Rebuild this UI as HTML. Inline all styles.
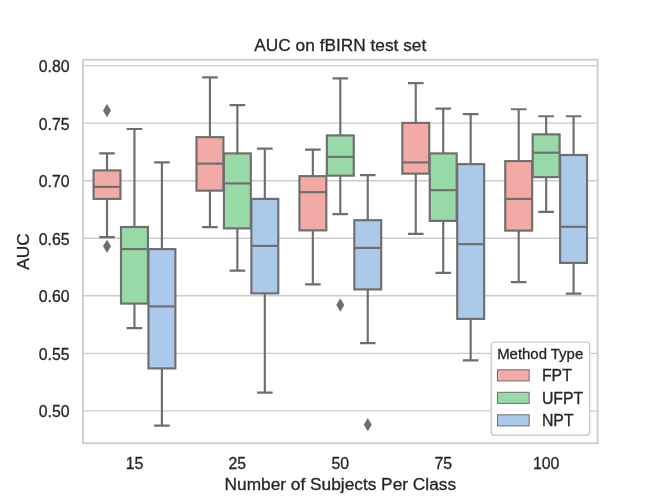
<!DOCTYPE html>
<html lang="en"><head><meta charset="utf-8"><title>AUC on fBIRN test set</title>
<style>html,body{margin:0;padding:0;background:#fff}body{width:664px;height:498px;overflow:hidden}svg{display:block}text{font-family:"Liberation Sans",Arial,Helvetica,sans-serif;fill:#262626;stroke:#262626;stroke-width:0.3px}</style></head><body>
<svg width="664" height="498" viewBox="0 0 664 498">
<rect width="664" height="498" fill="#fff"/>
<g stroke="#cccccc" stroke-width="1.44" fill="none">
<line x1="83.00" y1="65.60" x2="597.60" y2="65.60"/>
<line x1="83.00" y1="123.15" x2="597.60" y2="123.15"/>
<line x1="83.00" y1="180.70" x2="597.60" y2="180.70"/>
<line x1="83.00" y1="238.25" x2="597.60" y2="238.25"/>
<line x1="83.00" y1="295.80" x2="597.60" y2="295.80"/>
<line x1="83.00" y1="353.35" x2="597.60" y2="353.35"/>
<line x1="83.00" y1="410.90" x2="597.60" y2="410.90"/>
</g>
<g stroke="#6f6f6f" stroke-width="2.16" stroke-linejoin="miter">
<rect x="93.57" y="170.40" width="26.90" height="28.50" fill="#f2aaa7"/>
<rect x="121.01" y="227.00" width="26.90" height="76.60" fill="#98daa7"/>
<rect x="148.46" y="249.10" width="26.90" height="119.30" fill="#abc9ea"/>
<rect x="196.49" y="137.15" width="26.90" height="53.50" fill="#f2aaa7"/>
<rect x="223.93" y="153.40" width="26.90" height="75.00" fill="#98daa7"/>
<rect x="251.38" y="198.90" width="26.90" height="94.50" fill="#abc9ea"/>
<rect x="299.41" y="176.15" width="26.90" height="54.25" fill="#f2aaa7"/>
<rect x="326.85" y="135.40" width="26.90" height="40.25" fill="#98daa7"/>
<rect x="354.30" y="220.20" width="26.90" height="69.20" fill="#abc9ea"/>
<rect x="402.33" y="122.90" width="26.90" height="50.75" fill="#f2aaa7"/>
<rect x="429.77" y="153.40" width="26.90" height="67.50" fill="#98daa7"/>
<rect x="457.22" y="164.15" width="26.90" height="154.75" fill="#abc9ea"/>
<rect x="505.25" y="161.10" width="26.90" height="69.50" fill="#f2aaa7"/>
<rect x="532.69" y="134.35" width="26.90" height="42.80" fill="#98daa7"/>
<rect x="560.14" y="155.00" width="26.90" height="107.90" fill="#abc9ea"/>
</g>
<g stroke="#6f6f6f" stroke-width="2.16" fill="none">
<path d="M107.01 170.40V153.40M107.01 198.90V237.10" stroke-linecap="butt"/>
<path d="M100.29 153.40H113.74M100.29 237.10H113.74" stroke-linecap="square"/>
<path d="M93.57 186.90H120.46" stroke-linecap="butt"/>
<path d="M134.46 227.00V129.00M134.46 303.60V328.15" stroke-linecap="butt"/>
<path d="M127.74 129.00H141.18M127.74 328.15H141.18" stroke-linecap="square"/>
<path d="M121.01 249.10H147.91" stroke-linecap="butt"/>
<path d="M161.91 249.10V162.40M161.91 368.40V425.65" stroke-linecap="butt"/>
<path d="M155.18 162.40H168.63M155.18 425.65H168.63" stroke-linecap="square"/>
<path d="M148.46 306.40H175.35" stroke-linecap="butt"/>
<path d="M209.93 137.15V77.40M209.93 190.65V227.15" stroke-linecap="butt"/>
<path d="M203.21 77.40H216.66M203.21 227.15H216.66" stroke-linecap="square"/>
<path d="M196.49 163.65H223.38" stroke-linecap="butt"/>
<path d="M237.38 153.40V105.15M237.38 228.40V270.65" stroke-linecap="butt"/>
<path d="M230.66 105.15H244.10M230.66 270.65H244.10" stroke-linecap="square"/>
<path d="M223.93 183.40H250.83" stroke-linecap="butt"/>
<path d="M264.83 198.90V148.65M264.83 293.40V392.65" stroke-linecap="butt"/>
<path d="M258.10 148.65H271.55M258.10 392.65H271.55" stroke-linecap="square"/>
<path d="M251.38 245.90H278.27" stroke-linecap="butt"/>
<path d="M312.85 176.15V149.65M312.85 230.40V284.40" stroke-linecap="butt"/>
<path d="M306.13 149.65H319.58M306.13 284.40H319.58" stroke-linecap="square"/>
<path d="M299.41 192.15H326.30" stroke-linecap="butt"/>
<path d="M340.30 135.40V78.40M340.30 175.65V214.20" stroke-linecap="butt"/>
<path d="M333.58 78.40H347.02M333.58 214.20H347.02" stroke-linecap="square"/>
<path d="M326.85 156.90H353.75" stroke-linecap="butt"/>
<path d="M367.75 220.20V175.15M367.75 289.40V343.15" stroke-linecap="butt"/>
<path d="M361.02 175.15H374.47M361.02 343.15H374.47" stroke-linecap="square"/>
<path d="M354.30 247.90H381.19" stroke-linecap="butt"/>
<path d="M415.77 122.90V83.15M415.77 173.65V233.90" stroke-linecap="butt"/>
<path d="M409.05 83.15H422.50M409.05 233.90H422.50" stroke-linecap="square"/>
<path d="M402.33 162.40H429.22" stroke-linecap="butt"/>
<path d="M443.22 153.40V108.65M443.22 220.90V272.90" stroke-linecap="butt"/>
<path d="M436.50 108.65H449.94M436.50 272.90H449.94" stroke-linecap="square"/>
<path d="M429.77 190.15H456.67" stroke-linecap="butt"/>
<path d="M470.67 164.15V114.15M470.67 318.90V360.40" stroke-linecap="butt"/>
<path d="M463.94 114.15H477.39M463.94 360.40H477.39" stroke-linecap="square"/>
<path d="M457.22 244.15H484.11" stroke-linecap="butt"/>
<path d="M518.69 161.10V109.25M518.69 230.60V282.15" stroke-linecap="butt"/>
<path d="M511.97 109.25H525.42M511.97 282.15H525.42" stroke-linecap="square"/>
<path d="M505.25 198.90H532.14" stroke-linecap="butt"/>
<path d="M546.14 134.35V116.25M546.14 177.15V211.90" stroke-linecap="butt"/>
<path d="M539.42 116.25H552.86M539.42 211.90H552.86" stroke-linecap="square"/>
<path d="M532.69 152.70H559.59" stroke-linecap="butt"/>
<path d="M573.59 155.00V116.25M573.59 262.90V293.65" stroke-linecap="butt"/>
<path d="M566.86 116.25H580.31M566.86 293.65H580.31" stroke-linecap="square"/>
<path d="M560.14 226.80H587.03" stroke-linecap="butt"/>
</g>
<g fill="#6f6f6f" stroke="#6f6f6f" stroke-width="1.44" stroke-linejoin="miter">
<polygon points="107.01,105.25 110.16,110.50 107.01,115.75 103.86,110.50"/>
<polygon points="107.01,241.10 110.16,246.35 107.01,251.60 103.86,246.35"/>
<polygon points="340.30,299.75 343.45,305.00 340.30,310.25 337.15,305.00"/>
<polygon points="367.75,419.45 370.90,424.70 367.75,429.95 364.60,424.70"/>
</g>
<rect x="83.00" y="59.76" width="514.60" height="383.44" fill="none" stroke="#cccccc" stroke-width="1.8"/>
<g font-size="15.85px">
<text x="69.6" y="72.10" text-anchor="end">0.80</text>
<text x="69.6" y="129.65" text-anchor="end">0.75</text>
<text x="69.6" y="187.20" text-anchor="end">0.70</text>
<text x="69.6" y="244.75" text-anchor="end">0.65</text>
<text x="69.6" y="302.30" text-anchor="end">0.60</text>
<text x="69.6" y="359.85" text-anchor="end">0.55</text>
<text x="69.6" y="417.40" text-anchor="end">0.50</text>
<text x="134.46" y="468.6" text-anchor="middle">15</text>
<text x="237.38" y="468.6" text-anchor="middle">25</text>
<text x="340.30" y="468.6" text-anchor="middle">50</text>
<text x="443.22" y="468.6" text-anchor="middle">75</text>
<text x="546.14" y="468.6" text-anchor="middle">100</text>
</g>
<text x="340.30" y="489.9" font-size="17.29px" text-anchor="middle">Number of Subjects Per Class</text>
<text transform="translate(29.2 251.48) rotate(-90)" font-size="17.29px" text-anchor="middle">AUC</text>
<text x="340.30" y="50.8" font-size="17.29px" text-anchor="middle">AUC on fBIRN test set</text>
<rect x="491.20" y="342.10" width="98.50" height="93.20" rx="3.2" ry="3.2" fill="#ffffff" stroke="#cccccc" stroke-width="1.44"/>
<text x="497.2" y="358.5" font-size="14.41px" textLength="86.0" lengthAdjust="spacingAndGlyphs">Method Type</text>
<rect x="497.5" y="369.80" width="31.7" height="11.1" fill="#f2aaa7" stroke="#6f6f6f" stroke-width="1.0"/>
<text x="541.9" y="380.90" font-size="15.85px">FPT</text>
<rect x="497.5" y="392.30" width="31.7" height="11.1" fill="#98daa7" stroke="#6f6f6f" stroke-width="1.0"/>
<text x="541.9" y="403.60" font-size="15.85px">UFPT</text>
<rect x="497.5" y="414.80" width="31.7" height="11.1" fill="#abc9ea" stroke="#6f6f6f" stroke-width="1.0"/>
<text x="541.9" y="426.20" font-size="15.85px">NPT</text>
</svg></body></html>
